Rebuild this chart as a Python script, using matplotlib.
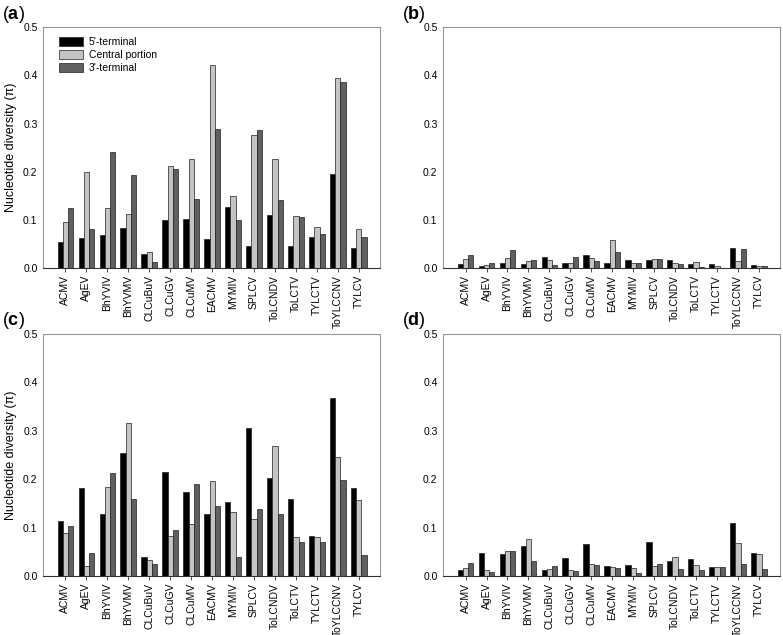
import matplotlib
matplotlib.use("Agg")
import matplotlib.pyplot as plt
import numpy as np

plt.rcParams["font.family"] = ["Liberation Sans", "DejaVu Sans"]
plt.rcParams["mathtext.fontset"] = "custom"
plt.rcParams["mathtext.rm"] = "Liberation Sans"
plt.rcParams["mathtext.bf"] = "Liberation Sans:bold"

viruses = ["ACMV", "AgEV", "BhYVIV", "BhYVMV", "CLCuBuV", "CLCuGV", "CLCuMV",
           "EACMV", "MYMIV", "SPLCV", "ToLCNDV", "ToLCTV", "TYLCTV", "ToYLCCNV", "TYLCV"]
series_names = ["5'-terminal", "Central portion", "3'-terminal"]

# panel (a)
a_5 = [0.053, 0.063, 0.068, 0.083, 0.030, 0.100, 0.101, 0.061, 0.127, 0.046, 0.111, 0.046, 0.065, 0.195, 0.041]
a_c = [0.095, 0.199, 0.124, 0.113, 0.034, 0.212, 0.226, 0.422, 0.150, 0.277, 0.227, 0.108, 0.086, 0.395, 0.081]
a_3 = [0.125, 0.080, 0.240, 0.194, 0.013, 0.205, 0.143, 0.288, 0.100, 0.287, 0.141, 0.105, 0.070, 0.386, 0.065]

# panel (b)
b_5 = [0.008, 0.004, 0.010, 0.009, 0.023, 0.010, 0.026, 0.010, 0.016, 0.017, 0.016, 0.009, 0.008, 0.041, 0.006]
b_c = [0.019, 0.006, 0.020, 0.014, 0.017, 0.010, 0.020, 0.059, 0.010, 0.019, 0.011, 0.012, 0.005, 0.014, 0.004]
b_3 = [0.026, 0.011, 0.038, 0.017, 0.006, 0.023, 0.014, 0.034, 0.011, 0.018, 0.009, 0.001, 0.000, 0.039, 0.004]

# panel (c)
c_5 = [0.113, 0.182, 0.129, 0.255, 0.039, 0.214, 0.173, 0.128, 0.153, 0.306, 0.202, 0.158, 0.082, 0.368, 0.182]
c_c = [0.089, 0.021, 0.183, 0.317, 0.032, 0.082, 0.107, 0.197, 0.133, 0.118, 0.269, 0.080, 0.080, 0.245, 0.157]
c_3 = [0.104, 0.047, 0.213, 0.160, 0.025, 0.095, 0.189, 0.145, 0.039, 0.139, 0.127, 0.071, 0.070, 0.198, 0.044]

# panel (d)
d_5 = [0.012, 0.048, 0.045, 0.062, 0.012, 0.037, 0.067, 0.021, 0.023, 0.070, 0.031, 0.035, 0.018, 0.109, 0.048]
d_c = [0.017, 0.012, 0.052, 0.076, 0.015, 0.013, 0.025, 0.019, 0.016, 0.020, 0.039, 0.023, 0.018, 0.069, 0.046]
d_3 = [0.026, 0.008, 0.051, 0.030, 0.020, 0.010, 0.022, 0.017, 0.007, 0.024, 0.015, 0.013, 0.018, 0.024, 0.015]

colors = ["#000000", "#c4c4c4", "#606060"]

fig = plt.figure(figsize=(7.83, 6.35), dpi=100)

panels = [
    ("a", [0.055, 0.578, 0.430, 0.379], (a_5, a_c, a_3), True, True),
    ("b", [0.566, 0.578, 0.430, 0.379], (b_5, b_c, b_3), False, False),
    ("c", [0.055, 0.093, 0.430, 0.381], (c_5, c_c, c_3), True, False),
    ("d", [0.566, 0.093, 0.430, 0.381], (d_5, d_c, d_3), False, False),
]

x = np.arange(len(viruses))
w = 0.25
for letter, pos, vals, ylab, leg in panels:
    ax = fig.add_axes(pos)
    for i, v in enumerate(vals):
        ax.bar(x + (i - 1) * w, v, width=w, color=colors[i], edgecolor="#202020",
               linewidth=0.5, label=series_names[i])
    ax.set_xlim(-1.07, 15.0)
    ax.set_ylim(0, 0.5)
    ax.set_yticks([0.0, 0.1, 0.2, 0.3, 0.4, 0.5])
    ax.set_yticklabels(["0.0", "0.1", "0.2", "0.3", "0.4", "0.5"])
    ax.set_xticks(x)
    ax.set_xticklabels(viruses, rotation=90)
    ax.tick_params(axis="x", length=3, width=0.6, color="#333333", labelsize=7.5, pad=2)
    ax.tick_params(axis="y", length=0, labelsize=7.5, pad=4)
    for s in ["left", "top", "right"]:
        ax.spines[s].set_color("#999999")
        ax.spines[s].set_linewidth(0.8)
    ax.spines["bottom"].set_color("#333333")
    ax.spines["bottom"].set_linewidth(0.8)
    if ylab:
        ax.set_ylabel("Nucleotide diversity (\u03c0)", fontsize=9)
    if leg:
        ax.legend(loc="upper left", bbox_to_anchor=(0.03, 0.985), frameon=False,
                  fontsize=7.5, handlelength=2.3, handleheight=0.9, handletextpad=0.5,
                  labelspacing=0.3, borderaxespad=0.2)
    fig.text(pos[0] - 0.053, pos[1] + pos[3] + 0.004, "(" + r"$\mathbf{" + letter + "}$" + ")",
             fontsize=13, va="bottom", ha="left")

fig.savefig("out.png", dpi=100)
